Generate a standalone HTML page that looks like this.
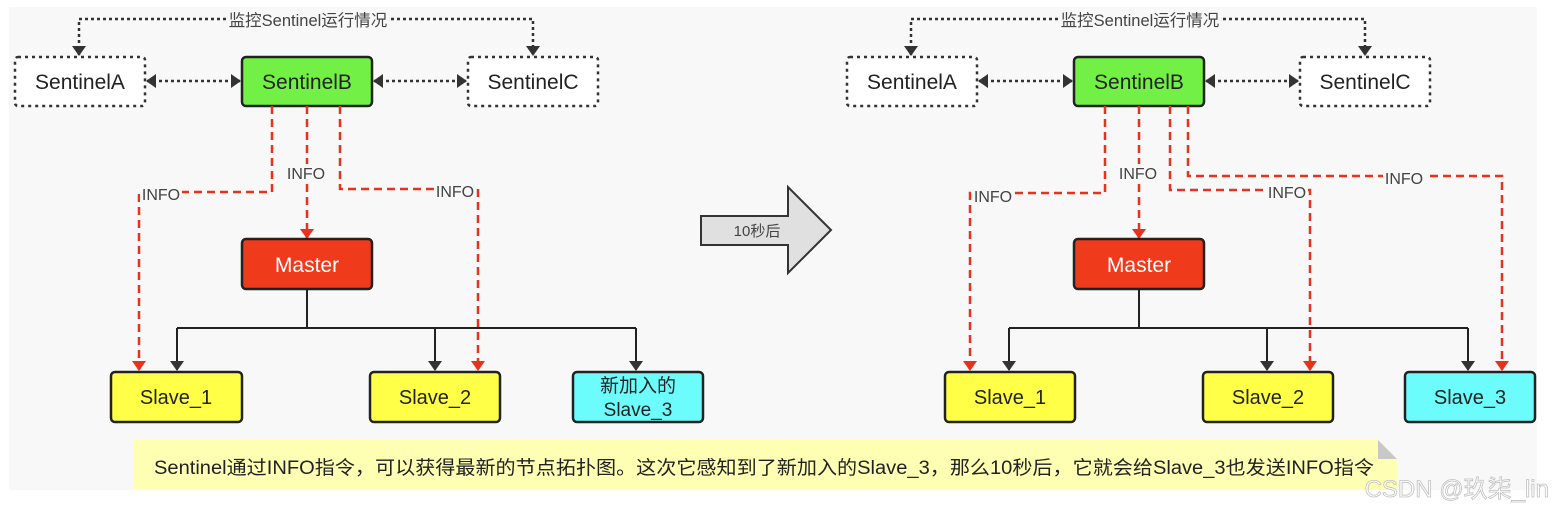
<!DOCTYPE html>
<html><head><meta charset="utf-8"><style>
html,body{margin:0;padding:0;background:#fff;width:1554px;height:511px;overflow:hidden}
svg text{font-family:"Liberation Sans","Noto Sans CJK SC",sans-serif}
</style></head><body>
<svg width="1554" height="511" viewBox="0 0 1554 511" xmlns="http://www.w3.org/2000/svg">
<defs>
<marker id="bk" markerWidth="10" markerHeight="14" refX="9" refY="7" orient="auto-start-reverse" markerUnits="userSpaceOnUse"><path d="M0,0 L10,7 L0,14 z" fill="#333"/></marker>
<marker id="rd" markerWidth="10" markerHeight="14" refX="9" refY="7" orient="auto" markerUnits="userSpaceOnUse"><path d="M0,0 L10,7 L0,14 z" fill="#e8321e"/></marker>
</defs>
<rect x="9" y="7" width="1528" height="483" fill="#f8f8f8"/>

<g id="L">
<path d="M79,55 V19 H533 V55" fill="none" stroke="#333" stroke-width="2.5" stroke-dasharray="3,3" marker-start="url(#bk)" marker-end="url(#bk)"/>
<rect x="226" y="10" width="164" height="19" fill="#f8f8f8"/>
<text x="308" y="26" font-size="16.5" text-anchor="middle" fill="#444">监控Sentinel运行情况</text>
<path d="M147,81 H240" stroke="#333" stroke-width="2.5" stroke-dasharray="3,3" marker-start="url(#bk)" marker-end="url(#bk)"/>
<path d="M374,81 H466" stroke="#333" stroke-width="2.5" stroke-dasharray="3,3" marker-start="url(#bk)" marker-end="url(#bk)"/>
<rect x="15" y="57" width="130" height="49" rx="3" fill="#fff" stroke="#333" stroke-width="2.5" stroke-dasharray="3,4"/>
<text x="80" y="89" font-size="21" text-anchor="middle" fill="#222">SentinelA</text>
<rect x="242" y="57" width="130" height="49" rx="4" fill="#72f046" stroke="#222" stroke-width="2.5"/>
<text x="307" y="89" font-size="21" text-anchor="middle" fill="#222">SentinelB</text>
<rect x="468" y="57" width="130" height="49" rx="3" fill="#fff" stroke="#333" stroke-width="2.5" stroke-dasharray="3,4"/>
<text x="533" y="89" font-size="21" text-anchor="middle" fill="#222">SentinelC</text>
<path d="M307,289 V328 M177,328 H636" stroke="#222" stroke-width="2" fill="none"/>
<path d="M177,328 V370" stroke="#222" stroke-width="2" marker-end="url(#bk)"/>
<path d="M435,328 V370" stroke="#222" stroke-width="2" marker-end="url(#bk)"/>
<path d="M636,328 V370" stroke="#222" stroke-width="2" marker-end="url(#bk)"/>
</g>

<g fill="none" stroke="#e8321e" stroke-width="2.5" stroke-dasharray="8,5">
<path d="M272,106 V192 H139 V370" marker-end="url(#rd)"/>
<path d="M307,106 V238" marker-end="url(#rd)"/>
<path d="M340,106 V189 H478 V370" marker-end="url(#rd)"/>
</g>
<g font-size="16" fill="#444" text-anchor="middle">
<rect x="140" y="185" width="42" height="18" fill="#f8f8f8"/><text x="161" y="200">INFO</text>
<rect x="285" y="164" width="42" height="18" fill="#f8f8f8"/><text x="306" y="179">INFO</text>
<rect x="434" y="182" width="42" height="18" fill="#f8f8f8"/><text x="455" y="197">INFO</text>
</g>
<rect x="242" y="239" width="130" height="50" rx="4" fill="#ef3a1c" stroke="#222" stroke-width="2.5"/>
<text x="307" y="272" font-size="21" text-anchor="middle" fill="#fff">Master</text>
<rect x="111" y="372" width="131" height="50" rx="4" fill="#ffff48" stroke="#222" stroke-width="2.5"/>
<text x="176" y="404" font-size="20" text-anchor="middle" fill="#222">Slave_1</text>
<rect x="370" y="372" width="130" height="50" rx="4" fill="#ffff48" stroke="#222" stroke-width="2.5"/>
<text x="435" y="404" font-size="20" text-anchor="middle" fill="#222">Slave_2</text>
<rect x="573" y="372" width="130" height="50" rx="4" fill="#6cfcfc" stroke="#222" stroke-width="2.5"/>
<text x="638" y="392" font-size="19" text-anchor="middle" fill="#222">新加入的</text>
<text x="638" y="416" font-size="19" text-anchor="middle" fill="#222">Slave_3</text>

<path d="M701,216 H788 V187 L831,230 L788,273 V245 H701 Z" fill="#e0e0e0" stroke="#333" stroke-width="2"/>
<text x="757" y="236" font-size="15" text-anchor="middle" fill="#444">10秒后</text>

<use href="#L" transform="translate(832,0)"/>
<g fill="none" stroke="#e8321e" stroke-width="2.5" stroke-dasharray="8,5">
<path d="M1105,106 V193 H970 V370" marker-end="url(#rd)"/>
<path d="M1139,106 V238" marker-end="url(#rd)"/>
<path d="M1170,106 V190 H1310 V370" marker-end="url(#rd)"/>
<path d="M1188,106 V176 H1502 V370" marker-end="url(#rd)"/>
</g>
<g font-size="16" fill="#444" text-anchor="middle">
<rect x="972" y="187" width="42" height="18" fill="#f8f8f8"/><text x="993" y="202">INFO</text>
<rect x="1117" y="164" width="42" height="18" fill="#f8f8f8"/><text x="1138" y="179">INFO</text>
<rect x="1266" y="183" width="42" height="18" fill="#f8f8f8"/><text x="1287" y="198">INFO</text>
<rect x="1383" y="169" width="42" height="18" fill="#f8f8f8"/><text x="1404" y="184">INFO</text>
</g>
<rect x="1074" y="239" width="130" height="50" rx="4" fill="#ef3a1c" stroke="#222" stroke-width="2.5"/>
<text x="1139" y="272" font-size="21" text-anchor="middle" fill="#fff">Master</text>
<rect x="945" y="372" width="130" height="50" rx="4" fill="#ffff48" stroke="#222" stroke-width="2.5"/>
<text x="1010" y="404" font-size="20" text-anchor="middle" fill="#222">Slave_1</text>
<rect x="1203" y="372" width="130" height="50" rx="4" fill="#ffff48" stroke="#222" stroke-width="2.5"/>
<text x="1268" y="404" font-size="20" text-anchor="middle" fill="#222">Slave_2</text>
<rect x="1405" y="372" width="130" height="50" rx="4" fill="#6cfcfc" stroke="#222" stroke-width="2.5"/>
<text x="1470" y="404" font-size="20" text-anchor="middle" fill="#222">Slave_3</text>

<path d="M134,440 H1378 L1397,459 V490 H134 Z" fill="#ffffb4"/>
<path d="M1378,440 L1397,459 H1378 Z" fill="#c8c8c8"/>
<text x="154" y="474" font-size="19" fill="#222" textLength="1220" lengthAdjust="spacingAndGlyphs">Sentinel通过INFO指令，可以获得最新的节点拓扑图。这次它感知到了新加入的Slave_3，那么10秒后，它就会给Slave_3也发送INFO指令</text>
<text x="1549" y="497" font-size="24" text-anchor="end" fill="#fff" stroke="#bbb" stroke-width="0.8" opacity="0.9">CSDN @玖柒_lin</text>
</svg>
</body></html>
